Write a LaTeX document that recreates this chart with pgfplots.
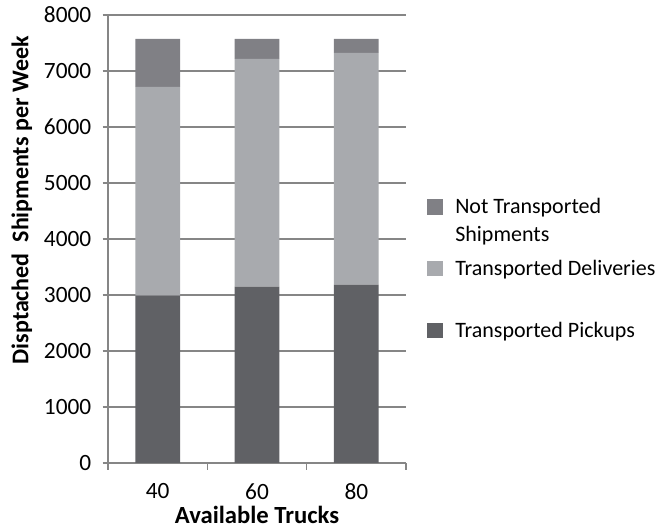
\documentclass[border=0pt]{standalone}
\usepackage{fontspec}
\setmainfont{Carlito}
\usepackage{pgfplots}
\pgfplotsset{compat=1.18}

\definecolor{pickup}{RGB}{96,97,101}
\definecolor{deliv}{RGB}{168,170,174}
\definecolor{notr}{RGB}{128,128,133}
\definecolor{axgray}{RGB}{134,134,134}

\begin{document}
\begin{tikzpicture}[x=1pt,y=1pt]
\useasboundingbox (0,0) rectangle (497.25,398.25);
\begin{axis}[
  at={(81pt,51pt)}, anchor=south west,
  scale only axis, width=223.5pt, height=336pt,
  ybar stacked, bar width=0.45,
  xmin=-0.5, xmax=2.5, ymin=0, ymax=8000,
  xtick={0,1,2}, xticklabels={40,60,80},
  major x tick style={draw=none},
  minor xtick={-0.5,0.5,1.5,2.5},
  minor x tick style={axgray, line width=1.2pt},
  ytick={0,1000,...,8000},
  ymajorgrids, grid style={axgray, line width=1.2pt},
  axis x line*=bottom, axis y line*=left,
  axis line style={axgray, line width=1.2pt, -},
  tick align=outside, major tick length=4pt, minor tick length=5pt,
  y tick style={axgray, line width=1.2pt},
  /pgf/number format/assume math mode=true,
  /pgf/number format/1000 sep={},
  tick label style={font=\fontsize{17.5}{20}\selectfont, text=black},
  xticklabel style={yshift=-8pt},
  yticklabel style={xshift=-5pt},
  xlabel={\textbf{Available Trucks}},
  ylabel={\textbf{Disptached\ \ Shipments per Week}},
  label style={font=\fontsize{18.5}{22}\selectfont},
  xlabel style={yshift=2pt},
  ylabel style={font=\fontsize{18}{22}\selectfont, yshift=2pt, xshift=29pt},
  reverse legend,
  legend style={draw=none, fill=none, inner sep=0pt,
    at={(rel axis cs:1.07,0.603)}, anchor=north west,
    font=\fontsize{16.5}{21}\selectfont,
    column sep=5.5pt,
    nodes={inner sep=3.6pt, text height=12pt, text depth=4pt},
    cells={anchor=base west}},
  legend image code/.code={\fill[#1] (0pt,-0.5pt) rectangle (12pt,11pt);},
]
\addplot[fill=pickup, draw=none] coordinates {(0,2990) (1,3150) (2,3185)};
\addlegendentry{Transported Pickups}
\addlegendimage{empty legend}
\addlegendentry{\mbox{}}
\addplot[fill=deliv, draw=none] coordinates {(0,3725) (1,4065) (2,4140)};
\addlegendentry{Transported Deliveries}
\addlegendimage{empty legend}
\addlegendentry{\mbox{}}
\addplot[fill=notr, draw=none] coordinates {(0,860) (1,360) (2,250)};
\addlegendentry{\begin{tabular}[t]{@{}l@{}}Not Transported\\Shipments\end{tabular}}
\end{axis}
\end{tikzpicture}
\end{document}
